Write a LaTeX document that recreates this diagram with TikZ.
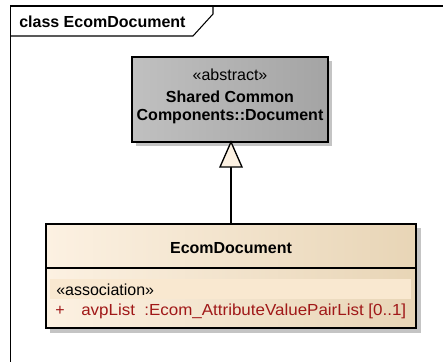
\documentclass[tikz,border=0pt]{standalone}
\usepackage{fontspec}
\setmainfont{Liberation Sans}
\usetikzlibrary{positioning}
\definecolor{grayL}{HTML}{C0C0C0}
\definecolor{grayR}{HTML}{A4A4A4}
\definecolor{creamL}{HTML}{FCF1E2}
\definecolor{creamR}{HTML}{E8D5B6}
\definecolor{bandC}{HTML}{F9E8D0}
\definecolor{shadowC}{HTML}{C4C4C4}
\definecolor{redT}{HTML}{A01818}
\tikzset{
  txt/.style={inner sep=0pt, font=\fontsize{12}{14}\selectfont},
  btxt/.style={inner sep=0pt, font=\fontsize{12}{14}\selectfont\bfseries},
  boxline/.style={draw=black, line width=1.3pt},
  frameline/.style={draw=black, line width=0.8pt},
}
\begin{document}
\begin{tikzpicture}[x=0.75pt,y=-0.75pt]
\useasboundingbox (0,0) rectangle (443,361);
\fill[white] (0,0) rectangle (443,361);
% frame
\draw[frameline] (10.5,370) -- (10.5,6) -- (450,6);
\draw[frameline] (10.5,36) -- (193,36) -- (213,14) -- (213,6);
\node[btxt, anchor=west] (title) at (19,22) {class EcomDocument};
% abstract box
\fill[shadowC] (136,61) rectangle (332,146);
\shade[left color=grayL, right color=grayR] (132,57) rectangle (328,142);
\draw[boxline] (132,57) rectangle (328,142);
\coordinate (absbot) at (231,142);
\node[txt] (st) at (230,75) {«abstract»};
\node[btxt] (n1) at (230,97) {Shared Common};
\node[btxt] (n2) at (230,117) {Components::Document};
% EcomDocument box
\fill[shadowC] (50,228) rectangle (421,333);
\shade[left color=creamL, right color=creamR] (46,224) rectangle (416,328);
\fill[bandC] (50,279) rectangle (411,299);
\draw[boxline] (46,224) rectangle (416,328);
\draw[boxline] (46,268) -- (416,268);
\coordinate (ecomtop) at (231,224);
\node[btxt] (ecom) at (231,248) {EcomDocument};
\node[txt, anchor=west] (assoc) at (56,290) {«association»};
\node[txt, anchor=west, text=redT] (plus) at (55,311) {+};
\node[txt, anchor=west, text=redT] (attr) at (81,311) {\scalebox{1.06}[1]{avpList\ \ :Ecom\_AttributeValuePairList [0..1]}};
% generalization
\coordinate (tribase) at (231,167);
\draw[line width=1pt] (ecomtop) -- (tribase);
\draw[line width=1pt, fill=creamL, line join=miter] (220,167) -- (absbot) -- (242,167) -- cycle;
\end{tikzpicture}
\end{document}
